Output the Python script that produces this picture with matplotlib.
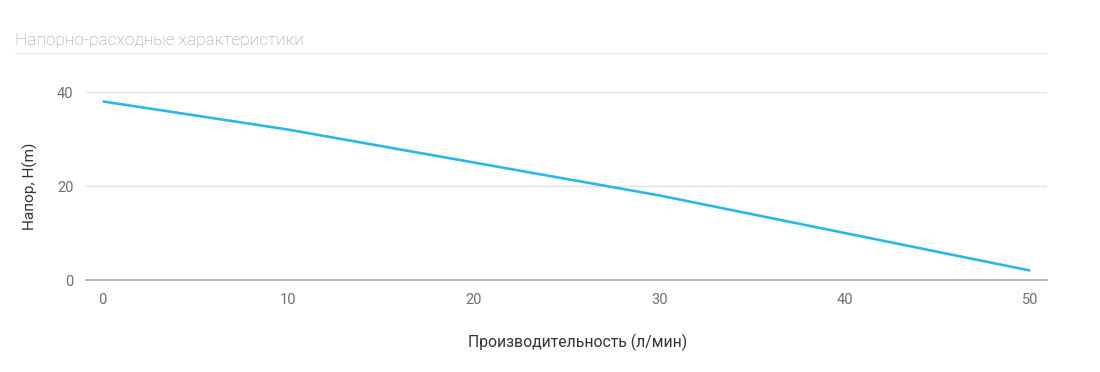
import matplotlib.pyplot as plt
from matplotlib.lines import Line2D

flow = [0, 10, 20, 30, 40, 50]
head = [38, 32, 25, 18, 10, 2]
x_ticks = [0, 10, 20, 30, 40, 50]
y_ticks = [0, 20, 40]

plt.rcParams['font.family'] = ['Roboto', 'DejaVu Sans']

fig = plt.figure(figsize=(11, 3.72), dpi=100)
ax = fig.add_axes([86/1100, 1-280/372, 961/1100, 188/372])

ax.plot(flow, head, color='#2bb8e6', lw=1.9, solid_capstyle='butt', zorder=3)

ax.set_xlim(-0.9, 50.9)
ax.set_ylim(0, 40)
ax.set_xticks(x_ticks)
ax.set_yticks(y_ticks)
ax.grid(axis='y', color='#e2e2e2', lw=1)
ax.set_axisbelow(True)
for s in ['top', 'right', 'left']:
    ax.spines[s].set_visible(False)
ax.spines['bottom'].set_color('#aaaaaa')
ax.spines['bottom'].set_linewidth(1.2)
ax.spines['bottom'].set_zorder(2)
ax.tick_params(length=0, labelsize=10.5, labelcolor='#707070')
ax.tick_params(axis='x', pad=9)
ax.tick_params(axis='y', pad=9)

ax.set_xlabel('Производительность (л/мин)', fontsize=11.3, color='#333333')
ax.xaxis.set_label_coords((578 - 86) / 961, -54 / 188)
ax.set_ylabel('Напор, H(m)', fontsize=11.1, color='#333333', labelpad=14)

fig.text(15/1100, 1-40/372, 'Напорно-расходные характеристики', fontsize=12.5,
         color='#999999', fontweight='light', va='center', ha='left')
fig.add_artist(Line2D([15/1100, 1047/1100], [1-53/372, 1-53/372], color='#eeeeee', lw=1))

fig.savefig('out.png', dpi=100)
